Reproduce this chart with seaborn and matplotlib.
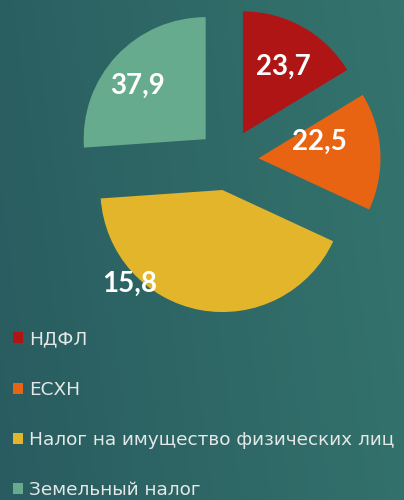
import matplotlib
matplotlib.use("Agg")
import matplotlib.pyplot as plt
import numpy as np
import seaborn as sns

# slice shares as drawn (proportions)
categories = ["НДФЛ", "ЕСХН", "Налог на имущество физических лиц", "Земельный налог"]
shares = [16.3, 15.6, 42.0, 26.1]
value_labels = ["23,7", "22,5", "15,8", "37,9"]
colors = ["#b01515", "#e86412", "#e3b52a", "#67ab8f"]

sns.set_theme(style="white")
plt.rcParams["font.family"] = ["DejaVu Sans"]

fig = plt.figure(figsize=(4.04, 5.0), dpi=100)

# teal gradient background
bg = fig.add_axes([0, 0, 1, 1])
xx, yy = np.meshgrid(np.linspace(0, 1, 200), np.linspace(0, 1, 250))
grad = 0.65 * xx + 0.35 * (1 - yy) * 0.3
c0 = np.array([0x29, 0x5c, 0x60]) / 255
c1 = np.array([0x38, 0x7c, 0x72]) / 255
img = c0[None, None, :] + (c1 - c0)[None, None, :] * grad[:, :, None]
bg.imshow(img, aspect="auto", extent=[0, 1, 0, 1], origin="upper")
bg.axis("off")

ax = fig.add_axes([68 / 404, 180 / 500, 320 / 404, 320 / 500])
expl = 0.25
wedges, _ = ax.pie(shares, colors=colors, startangle=90, counterclock=False,
                   explode=[expl] * len(shares), radius=1.0,
                   wedgeprops=dict(linewidth=0))
ax.set_xlim(-1.311, 1.311)
ax.set_ylim(-1.311, 1.311)
ax.set_aspect("equal")
ax.axis("off")

# label placement: distance from slice apex, angle offset
label_dist = [0.64, 0.52, 1.08, 0.71]
label_turn = [-2, 12, -34, 5]
for w, txt, d, t in zip(wedges, value_labels, label_dist, label_turn):
    mid = np.deg2rad((w.theta1 + w.theta2) / 2)
    ang = mid + np.deg2rad(t)
    x = expl * np.cos(mid) + d * np.cos(ang)
    y = expl * np.sin(mid) + d * np.sin(ang)
    ax.text(x, y, txt, ha="center", va="center", color="white",
            fontsize=20, fontweight="bold", family=["Lato", "DejaVu Sans"])

leg = fig.legend(wedges, categories, loc="upper left",
                 bbox_to_anchor=(0.0, 0.365), frameon=False,
                 handlelength=0.55, handleheight=0.55, handletextpad=0.3,
                 labelspacing=1.75, fontsize=13.3, labelcolor="#e4e8e6",
                 borderaxespad=0.3)

fig.savefig("out.png", dpi=100)
